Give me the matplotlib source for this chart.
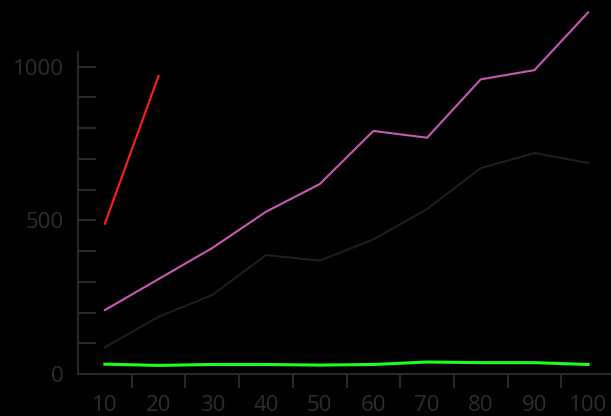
import matplotlib
matplotlib.use("Agg")
import matplotlib.pyplot as plt
from matplotlib.ticker import MultipleLocator, FixedLocator

plt.rcParams['font.family'] = ['Open Sans', 'DejaVu Sans']

# data
categories = [10, 20, 30, 40, 50, 60, 70, 80, 90, 100]
magenta_vals = [208, 309, 410, 528, 618, 791, 769, 959, 989, 1177]
dark_vals = [87, 186, 257, 387, 369, 438, 537, 670, 719, 687]
green_vals = [32, 28, 31, 31, 29, 31, 39, 37, 37, 31]
red_cats = [10, 20]
red_vals = [489, 970]

axis_col = '#2b2828'
text_col = '#302d2d'

W, H = 611, 416
fig = plt.figure(figsize=(W / 100, H / 100), dpi=100, facecolor='black')
ax = fig.add_axes([78 / W, (H - 374) / H, (615 - 78) / W, (374 - 52) / H])
ax.set_facecolor('black')

xpos = list(range(len(categories)))
idx = {c: i for i, c in enumerate(categories)}

ax.plot(xpos, dark_vals, color='#1f1d1d', lw=1.5, clip_on=False)
ax.plot(xpos, magenta_vals, color='#c85ab4', lw=1.5, clip_on=False)
ax.plot(xpos, green_vals, color='#1cff1c', lw=2.2, clip_on=False)
ax.plot([idx[c] for c in red_cats], red_vals, color='#ff1f1f', lw=1.5, clip_on=False)

ax.set_xlim(-0.5, 9.5)
ax.set_ylim(0, 1048)

# x axis: labels at band centres, tick marks between bands
ax.set_xticks(xpos)
ax.set_xticklabels([str(c) for c in categories])
ax.xaxis.set_minor_locator(FixedLocator([i + 0.5 for i in range(9)]))
ax.tick_params(axis='x', which='major', length=0, pad=15, labelsize=16, labelcolor=text_col)
ax.tick_params(axis='x', which='minor', length=10, width=1.5, direction='out', color=axis_col)

# y axis: labels every 500, ticks every 100 pointing inward
ax.yaxis.set_major_locator(MultipleLocator(500))
ax.yaxis.set_minor_locator(MultipleLocator(100))
ax.tick_params(axis='y', which='both', length=13, width=1.5, direction='in', color=axis_col)
ax.tick_params(axis='y', which='major', pad=10, labelsize=16, labelcolor=text_col)

for s in ['top', 'right']:
    ax.spines[s].set_visible(False)
for s in ['left', 'bottom']:
    ax.spines[s].set_color(axis_col)
    ax.spines[s].set_linewidth(1.5)

fig.savefig('out.png', dpi=100, facecolor='black')
